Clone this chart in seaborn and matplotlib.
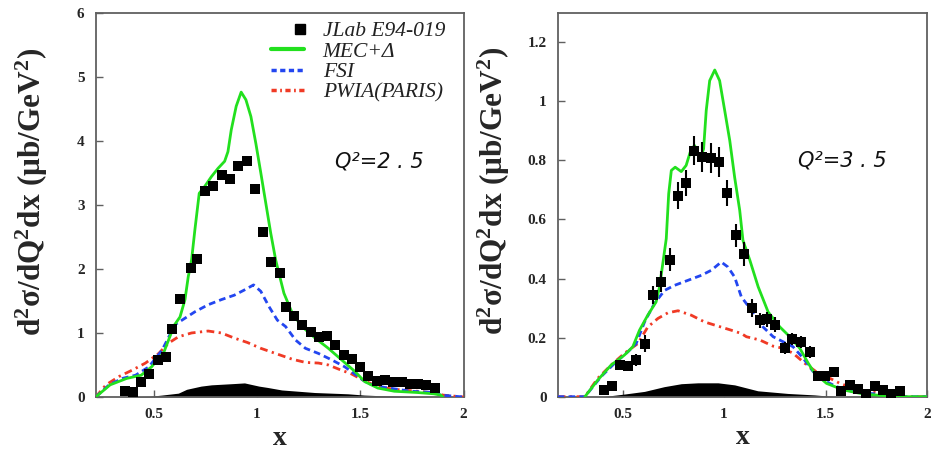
import numpy as np
import matplotlib
matplotlib.use("Agg")
import matplotlib.pyplot as plt
import seaborn as sns
from matplotlib.lines import Line2D
from matplotlib.legend_handler import HandlerLine2D
from matplotlib.font_manager import FontProperties
from matplotlib.ticker import FixedLocator, FuncFormatter

sns.set_style("ticks")
plt.rcParams['font.family'] = ['Liberation Serif', 'DejaVu Serif']
plt.rcParams['mathtext.fontset'] = 'custom'
plt.rcParams['mathtext.rm'] = 'Liberation Serif:bold'
plt.rcParams['mathtext.it'] = 'Liberation Serif:bold'
plt.rcParams['mathtext.bf'] = 'Liberation Serif:bold'

# ---------------- Q^2 = 2.5 ----------------
x25_data = [0.36, 0.40, 0.44, 0.48, 0.52, 0.56, 0.59, 0.63, 0.68, 0.71, 0.75, 0.79, 0.83, 0.87, 0.91,
            0.95, 0.99, 1.03, 1.07, 1.11, 1.14, 1.18, 1.22, 1.26, 1.30, 1.34, 1.38, 1.42, 1.46, 1.50,
            1.54, 1.58, 1.62, 1.66, 1.70, 1.74, 1.78, 1.82, 1.86]
y25_data = [0.10, 0.08, 0.24, 0.36, 0.58, 0.62, 1.06, 1.53, 2.02, 2.15, 3.21, 3.30, 3.46, 3.40, 3.61,
            3.69, 3.24, 2.58, 2.10, 1.93, 1.40, 1.27, 1.12, 1.02, 0.94, 0.96, 0.81, 0.66, 0.59, 0.47,
            0.33, 0.25, 0.27, 0.24, 0.24, 0.21, 0.21, 0.18, 0.14]

x25_mec = [0.22, 0.29, 0.37, 0.44, 0.49, 0.55, 0.60, 0.628, 0.652, 0.668, 0.684, 0.70, 0.721, 0.748,
           0.78, 0.812, 0.844, 0.86, 0.876, 0.90, 0.924, 0.947, 0.971, 0.995, 1.019, 1.043, 1.067,
           1.091, 1.107, 1.131, 1.171, 1.218, 1.282, 1.346, 1.41, 1.474, 1.522, 1.585, 1.665, 1.777,
           1.856, 1.89, 1.90]
y25_mec = [0.0, 0.19, 0.29, 0.34, 0.47, 0.70, 1.12, 1.25, 1.52, 1.88, 2.14, 2.61, 3.18, 3.29,
           3.44, 3.57, 3.68, 3.83, 4.17, 4.54, 4.76, 4.64, 4.38, 3.96, 3.50, 3.03, 2.56,
           2.14, 1.93, 1.62, 1.31, 1.10, 0.92, 0.76, 0.58, 0.40, 0.24, 0.14, 0.09, 0.07,
           0.05, 0.03, 0.0]

x25_fsi = [0.22, 0.285, 0.349, 0.413, 0.477, 0.541, 0.604, 0.652, 0.70, 0.764, 0.828, 0.891, 0.939,
           0.984, 1.019, 1.059, 1.099, 1.139, 1.187, 1.235, 1.298, 1.362, 1.426, 1.49, 1.537, 1.617,
           1.745, 1.856, 1.89, 2.0]
y25_fsi = [0.0, 0.19, 0.29, 0.34, 0.47, 0.73, 1.13, 1.23, 1.33, 1.44, 1.52, 1.59, 1.67,
           1.75, 1.65, 1.41, 1.20, 1.10, 0.89, 0.76, 0.68, 0.58, 0.47, 0.32, 0.21, 0.15,
           0.09, 0.07, 0.03, 0.0]

x25_pwia = [0.22, 0.27, 0.333, 0.397, 0.461, 0.525, 0.572, 0.62, 0.684, 0.764, 0.828, 0.891, 0.955,
            1.019, 1.099, 1.171, 1.235, 1.298, 1.346, 1.40, 1.458, 1.51, 1.585, 1.665, 1.777, 1.872,
            1.90, 2.0]
y25_pwia = [0.0, 0.19, 0.32, 0.42, 0.53, 0.68, 0.84, 0.94, 1.00, 1.03, 1.00, 0.92, 0.85,
            0.76, 0.67, 0.59, 0.54, 0.53, 0.50, 0.43, 0.36, 0.27, 0.16, 0.12, 0.09, 0.06,
            0.03, 0.0]

x25_band = [0.30, 0.48, 0.54, 0.62, 0.66, 0.73, 0.78, 0.89, 0.94, 1.01, 1.05, 1.12, 1.28, 1.44,
            1.52, 1.60, 1.85]
y25_band = [0.0, 0.01, 0.03, 0.06, 0.12, 0.17, 0.19, 0.21, 0.22, 0.17, 0.15, 0.11, 0.07, 0.05,
            0.03, 0.02, 0.0]

# ---------------- Q^2 = 3.5 ----------------
x35_data = [0.41, 0.45, 0.485, 0.526, 0.567, 0.608, 0.649, 0.69, 0.731, 0.773, 0.814, 0.851, 0.891,
            0.934, 0.975, 1.016, 1.057, 1.10, 1.136, 1.175, 1.212, 1.252, 1.298, 1.337, 1.38, 1.422,
            1.463, 1.498, 1.54, 1.578, 1.619, 1.66, 1.701, 1.743, 1.784, 1.825, 1.865]
y35_data = [0.023, 0.036, 0.107, 0.104, 0.124, 0.18, 0.344, 0.389, 0.464, 0.681, 0.723, 0.833, 0.811,
            0.809, 0.794, 0.69, 0.546, 0.484, 0.30, 0.259, 0.262, 0.244, 0.166, 0.196, 0.186, 0.152,
            0.07, 0.07, 0.084, 0.02, 0.04, 0.026, 0.009, 0.035, 0.023, 0.009, 0.02]
e35_data = [0.01, 0.01, 0.015, 0.015, 0.02, 0.03, 0.03, 0.035, 0.04, 0.045, 0.045, 0.05, 0.05,
            0.05, 0.05, 0.045, 0.04, 0.04, 0.03, 0.025, 0.025, 0.025, 0.02, 0.02, 0.02, 0.02,
            0.015, 0.015, 0.015, 0.01, 0.01, 0.01, 0.01, 0.01, 0.01, 0.01, 0.01]

x35_mec = [0.314, 0.377, 0.443, 0.509, 0.55, 0.583, 0.624, 0.665, 0.682, 0.698, 0.715, 0.727, 0.74,
           0.759, 0.789, 0.813, 0.838, 0.855, 0.871, 0.885, 0.899, 0.912, 0.929, 0.954, 0.978, 1.003,
           1.028, 1.052, 1.077, 1.093, 1.127, 1.168, 1.217, 1.275, 1.324, 1.373, 1.415, 1.447, 1.505,
           1.587, 1.686, 1.818, 1.90, 2.0]
y35_mec = [0.0, 0.056, 0.107, 0.141, 0.169, 0.225, 0.276, 0.321, 0.372, 0.451, 0.535, 0.687, 0.766,
           0.777, 0.762, 0.783, 0.839, 0.85, 0.822, 0.811, 0.839, 0.969, 1.07, 1.106, 1.07, 0.969,
           0.867, 0.743, 0.631, 0.529, 0.462, 0.372, 0.287, 0.236, 0.203, 0.164, 0.113, 0.079, 0.045,
           0.023, 0.009, 0.002, 0.0, 0.0]

x35_fsi = [0.18, 0.314, 0.394, 0.46, 0.526, 0.567, 0.608, 0.657, 0.707, 0.756, 0.822, 0.888, 0.937,
           0.986, 1.019, 1.052, 1.085, 1.134, 1.192, 1.242, 1.291, 1.34, 1.39, 1.44, 1.489, 1.554,
           1.637, 1.752, 1.90, 2.0]
y35_fsi = [0.0, 0.0, 0.068, 0.113, 0.152, 0.18, 0.253, 0.316, 0.36, 0.377, 0.394, 0.411, 0.428,
           0.456, 0.439, 0.405, 0.338, 0.293, 0.236, 0.203, 0.186, 0.169, 0.13, 0.084, 0.056, 0.034,
           0.017, 0.009, 0.0, 0.0]

x35_pwia = [0.18, 0.314, 0.377, 0.443, 0.509, 0.575, 0.624, 0.674, 0.723, 0.773, 0.838, 0.904, 0.97,
            1.036, 1.085, 1.11, 1.176, 1.242, 1.291, 1.34, 1.398, 1.455, 1.505, 1.571, 1.653, 1.785,
            1.90, 2.0]
y35_pwia = [0.0, 0.0, 0.062, 0.107, 0.147, 0.18, 0.236, 0.265, 0.284, 0.291, 0.276, 0.253, 0.239,
            0.225, 0.214, 0.203, 0.192, 0.171, 0.164, 0.147, 0.113, 0.084, 0.068, 0.045, 0.025, 0.011,
            0.0, 0.0]

x35_band = [0.40, 0.509, 0.608, 0.705, 0.789, 0.871, 0.97, 1.052, 1.166, 1.314, 1.446, 1.55]
y35_band = [0.0, 0.009, 0.018, 0.034, 0.044, 0.047, 0.047, 0.04, 0.02, 0.011, 0.006, 0.0]

xticks = [0.5, 1.0, 1.5, 2.0]
yticks25 = [0, 1, 2, 3, 4, 5, 6]
yticks35 = [0, 0.2, 0.4, 0.6, 0.8, 1.0, 1.2]

legend_labels = ["JLab E94-019", "MEC+\u0394", "FSI", "PWIA(PARIS)"]
ylabel_text = r"$\mathrm{d^2\sigma/dQ^2dx\ (\mu b/GeV^2)}$"

GREEN = '#22e01e'
BLUE = '#2346f0'
RED = '#f03a25'
FRAME = '#606060'
DASH_FSI = (0, (2.4, 1.5))
DASH_PWIA = (0, (2.8, 1.6, 0.8, 1.6))

W, H = 941, 453
fig = plt.figure(figsize=(W / 100, H / 100), dpi=100)
ax1 = fig.add_axes([95.7 / W, (H - 397) / H, 367.8 / W, 384.3 / H])
ax2 = fig.add_axes([557.7 / W, (H - 396.7) / H, 369.3 / W, 384.0 / H])

tick_fp = FontProperties(family='Liberation Serif', weight='bold', size=11)


def panel(ax, xd, yd, ed, xm, ym, xf, yf, xp, yp, xb, yb, xlim, ylim, yticks, qtext):
    ax.fill_between(xb, yb, 0, color='black', lw=0, zorder=2)
    sns.lineplot(x=xp, y=yp, ax=ax, color=RED, lw=2.0, estimator=None, sort=False, zorder=3)
    ax.lines[-1].set_linestyle(DASH_PWIA)
    sns.lineplot(x=xf, y=yf, ax=ax, color=BLUE, lw=2.0, estimator=None, sort=False, zorder=4)
    ax.lines[-1].set_linestyle(DASH_FSI)
    sns.lineplot(x=xm, y=ym, ax=ax, color=GREEN, lw=2.0, estimator=None, sort=False, zorder=5)
    if ed is not None:
        ax.errorbar(xd, yd, yerr=ed, fmt='none', ecolor='black', elinewidth=1.5, capsize=0, zorder=6)
    sns.scatterplot(x=xd, y=yd, ax=ax, marker='s', s=62, color='black', edgecolor='black',
                    linewidth=0, zorder=7)
    ax.set_xlim(*xlim)
    ax.set_ylim(*ylim)
    ax.xaxis.set_major_locator(FixedLocator(xticks))
    ax.yaxis.set_major_locator(FixedLocator(yticks))
    fmt = FuncFormatter(lambda v, p: "%g" % v)
    ax.xaxis.set_major_formatter(fmt)
    ax.yaxis.set_major_formatter(fmt)
    ax.tick_params(direction='in', length=5, width=1, color=FRAME, top=False, right=False)
    ax.tick_params(axis='y', pad=8)
    ax.tick_params(axis='x', pad=8)
    for lab in ax.get_xticklabels() + ax.get_yticklabels():
        lab.set_fontproperties(tick_fp)
    for sp in ax.spines.values():
        sp.set_visible(True)
        sp.set_color(FRAME)
        sp.set_linewidth(1.3)
    ax.set_ylabel(ylabel_text, fontsize=22.5)
    ax.yaxis.set_label_coords(-0.125, 0.535)
    ax.set_xlabel("x", fontsize=20, fontweight='bold', family='Liberation Serif')
    ax.xaxis.set_label_coords(0.5, -0.075)
    ax.text(0.65, 0.614, qtext, transform=ax.transAxes, ha='left', va='center',
            fontsize=15, style='italic', family='DejaVu Sans', color='#111111')


panel(ax1, x25_data, y25_data, None, x25_mec, y25_mec, x25_fsi, y25_fsi, x25_pwia, y25_pwia,
      x25_band, y25_band, (0.22, 2.0), (0, 6.0), yticks25, "Q\u00b2=2 . 5")
panel(ax2, x35_data, y35_data, e35_data, x35_mec, y35_mec, x35_fsi, y35_fsi, x35_pwia, y35_pwia,
      x35_band, y35_band, (0.18, 2.0), (0, 1.3), yticks35, "Q\u00b2=3 . 5")


class RightMarkerHandler(HandlerLine2D):
    def get_xdata(self, legend, xdescent, ydescent, width, height, fontsize):
        xd, xm = super().get_xdata(legend, xdescent, ydescent, width, height, fontsize)
        pos = width - xdescent - 3.0
        return np.array([pos, pos]), np.array([pos])


h_data = Line2D([], [], marker='s', ls='none', color='black', ms=7.5)
h_mec = Line2D([], [], color=GREEN, lw=3.0)
h_fsi = Line2D([], [], color=BLUE, lw=2.5, linestyle=(0, (1.5, 1.0)))
h_pwia = Line2D([], [], color=RED, lw=2.5, linestyle=(0, (1.5, 1.0, 0.5, 1.0)))
leg = ax1.legend([h_data, h_mec, h_fsi, h_pwia], legend_labels, loc='upper right',
                 bbox_to_anchor=((445 - 95.7) / 367.8, (397 - 21) / 384.3), frameon=False,
                 prop=FontProperties(family='Liberation Serif', style='italic', size=15.5),
                 handlelength=1.55, handletextpad=0.85, labelspacing=0.02, borderaxespad=0.0,
                 borderpad=0.0,
                 handler_map={h_data: RightMarkerHandler(numpoints=1)})
for t in leg.get_texts():
    t.set_color('#222222')

fig.savefig("out.png", dpi=100, facecolor='white')
